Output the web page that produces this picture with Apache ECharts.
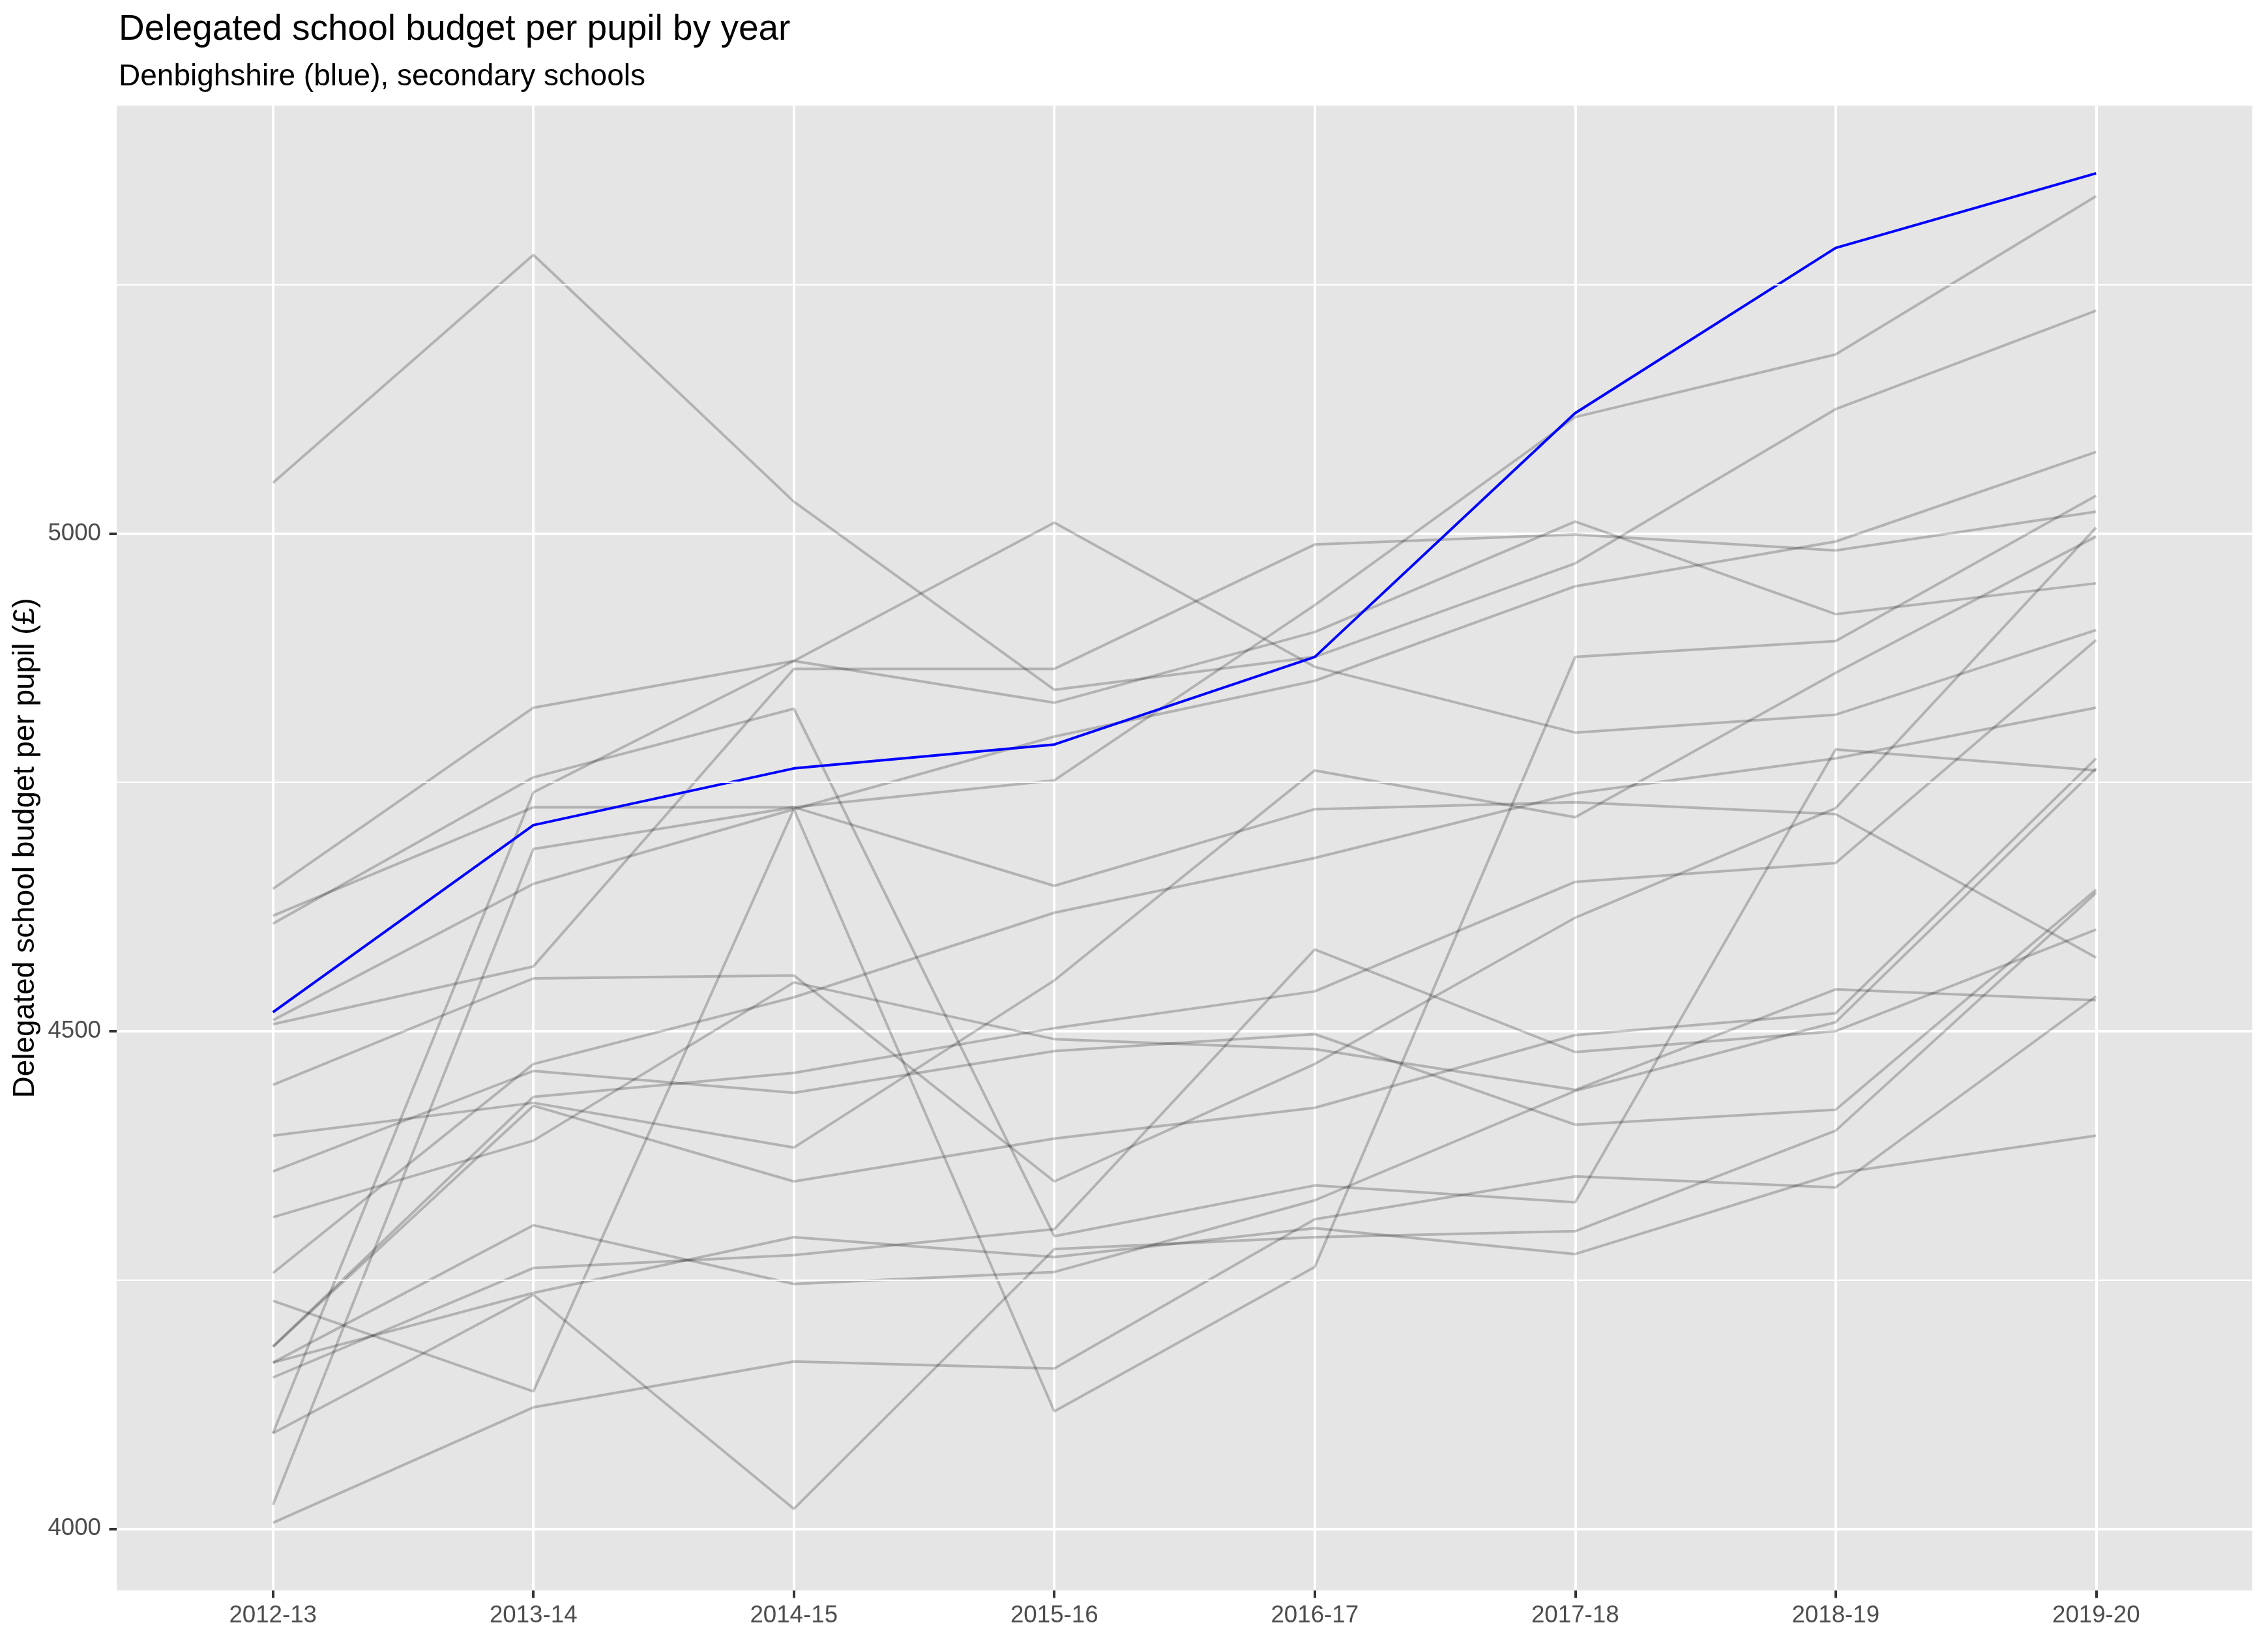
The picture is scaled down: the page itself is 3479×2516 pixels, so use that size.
<!DOCTYPE html>
<html>
<head>
<meta charset="utf-8">
<script src="https://cdn.jsdelivr.net/npm/echarts@6/dist/echarts.min.js"></script>
<style>
html,body{margin:0;padding:0;background:#fff;}
#chart{width:3479px;height:2516px;}
</style>
</head>
<body>
<div id="chart"></div>
<script>
// ---- data ----
const years = ["2012-13","2013-14","2014-15","2015-16","2016-17","2017-18","2018-19","2019-20"];
const yTicks = [4000, 4500, 5000];
const yMinorTicks = [4250, 4750, 5250];
const denbighshire = [4519, 4707, 4764, 4788, 4876, 5121, 5287, 5362];
const otherAuthorities = [
  [5051, 5280, 5032, 4843, 4876, 4970, 5125, 5224],
  [4643, 4825, 4872, 5011, 4866, 4800, 4818, 4903],
  [4616, 4725, 4725, 4752, 4928, 5117, 5180, 5339],
  [4608, 4755, 4824, 4294, 4345, 4328, 4783, 4762],
  [4511, 4648, 4723, 4796, 4852, 4947, 4992, 5082],
  [4507, 4565, 4864, 4864, 4989, 4999, 4983, 5022],
  [4446, 4553, 4556, 4349, 4467, 4614, 4724, 5006],
  [4395, 4428, 4383, 4551, 4762, 4715, 4860, 4997],
  [4359, 4460, 4438, 4480, 4497, 4406, 4421, 4642],
  [4313, 4390, 4549, 4492, 4482, 4441, 4542, 4531],
  [4257, 4467, 4534, 4619, 4674, 4739, 4774, 4825],
  [4229, 4138, 4723, 4118, 4263, 4876, 4892, 5038],
  [4183, 4434, 4458, 4503, 4540, 4650, 4669, 4893],
  [4183, 4425, 4349, 4392, 4423, 4496, 4518, 4774],
  [4167, 4305, 4246, 4258, 4330, 4440, 4509, 4764],
  [4167, 4237, 4293, 4273, 4302, 4276, 4357, 4395],
  [4152, 4262, 4275, 4301, 4582, 4479, 4500, 4602],
  [4096, 4740, 4872, 4830, 4901, 5012, 4919, 4950],
  [4096, 4235, 4020, 4281, 4293, 4299, 4400, 4639],
  [4024, 4683, 4725, 4646, 4723, 4730, 4718, 4574],
  [4006, 4122, 4168, 4161, 4311, 4354, 4343, 4535]
];

// ---- chart ----
const FONT = "'Liberation Sans', Arial, Helvetica, sans-serif";
const toPoints = arr => arr.map((v, i) => [i, v]);
const yearIdx = years.map((_, i) => i);

const series = [];
// minor horizontal gridlines (ggplot minor breaks) as a silent markLine
series.push({
  type: 'line',
  name: 'minor-grid',
  data: [],
  silent: true,
  z: 1,
  markLine: {
    silent: true,
    symbol: 'none',
    animation: false,
    label: { show: false },
    lineStyle: { color: '#FFFFFF', width: 2, type: 'solid' },
    data: yMinorTicks.map(v => ({ yAxis: v }))
  }
});
otherAuthorities.forEach((arr, k) => series.push({
  type: 'line',
  name: 'LA ' + (k + 1),
  data: toPoints(arr),
  symbol: 'none',
  silent: true,
  animation: false,
  lineStyle: { color: 'rgba(0,0,0,0.22)', width: 4 },
  z: 2
}));
series.push({
  type: 'line',
  name: 'Denbighshire',
  data: toPoints(denbighshire),
  symbol: 'none',
  silent: true,
  animation: false,
  lineStyle: { color: '#0000FF', width: 4 },
  z: 3
});

const chart = echarts.init(document.getElementById('chart'), null, { renderer: 'canvas' });
chart.setOption({
  backgroundColor: '#FFFFFF',
  animation: false,
  title: [
    { text: 'Delegated school budget per pupil by year', left: 177, top: 13,
      textStyle: { fontFamily: FONT, fontSize: 55, fontWeight: 'normal', color: '#000000' } },
    { text: 'Denbighshire (blue), secondary schools', left: 177, top: 90,
      textStyle: { fontFamily: FONT, fontSize: 46, fontWeight: 'normal', color: '#000000' } }
  ],
  grid: { left: 179, right: 24, top: 162, bottom: 76, show: true, backgroundColor: '#E5E5E5', borderWidth: 0 },
  xAxis: {
    type: 'value', min: -0.6, max: 7.6,
    axisLine: { show: false, onZero: false },
    axisTick: { show: true, customValues: yearIdx, length: 11.5, lineStyle: { color: '#333333', width: 4 } },
    axisLabel: { customValues: yearIdx, formatter: v => years[Math.round(v)] || '', fontFamily: FONT, fontSize: 36.7, color: '#4D4D4D', margin: 20 },
    splitLine: { show: true, lineStyle: { color: '#FFFFFF', width: 4 } }
  },
  yAxis: {
    type: 'value', min: 3938, max: 5430,
    name: 'Delegated school budget per pupil (£)',
    nameLocation: 'middle', nameRotate: 90, nameGap: 112,
    nameTextStyle: { fontFamily: FONT, fontSize: 46, color: '#000000' },
    axisLine: { show: false, onZero: false },
    axisTick: { show: true, customValues: yTicks, length: 11.5, lineStyle: { color: '#333333', width: 4 } },
    axisLabel: { customValues: yTicks, formatter: v => String(Math.round(v)), fontFamily: FONT, fontSize: 36.7, color: '#4D4D4D', margin: 24 },
    splitLine: { show: true, lineStyle: { color: '#FFFFFF', width: 4 } }
  },
  series: series
});
</script>
</body>
</html>
